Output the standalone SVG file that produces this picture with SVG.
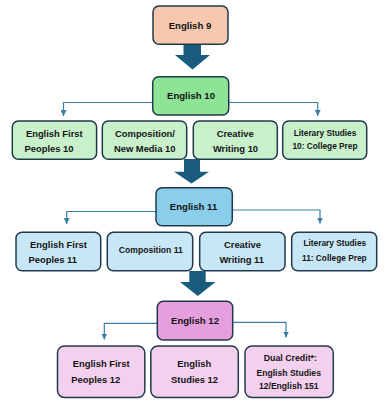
<svg xmlns="http://www.w3.org/2000/svg" width="389" height="414" viewBox="0 0 389 414">
  <defs>
    <style>
      .box { stroke: #203A4B; stroke-width: 1.5; }
      .t { font-family: "Liberation Sans", Arial, sans-serif; font-weight: bold; fill: #141414; text-anchor: middle; }
      .main { font-size: 9.6px; }
      .sub { font-size: 9.4px; }
      .small { font-size: 8.3px; }
      .conn { fill: none; stroke: #3A7DA6; stroke-width: 1.2; }
      .block { fill: #1A5C7E; }
      .c9 { fill: #F7C8AD; }
      .c10 { fill: #8DE396; }
      .c10s { fill: #C7F0CB; }
      .c11 { fill: #8ACEEC; }
      .c11s { fill: #C8E7F6; }
      .c12 { fill: #E69FDD; }
      .c12s { fill: #F3D0EE; }
    </style>
    <marker id="ah" viewBox="0 0 6 6" refX="6" refY="3" markerWidth="6" markerHeight="6" markerUnits="userSpaceOnUse" orient="auto">
      <path d="M0,0 L6,3 L0,6 Z" fill="#3A7DA6"/>
    </marker>
  </defs>
  <rect width="389" height="414" fill="#FFFFFF"/>

  <g id="connectors">
    <path class="block" d="M183.5,44 L201,44 L201,55 L210,55 L192.5,69.5 L175,55 L183.5,55 Z"/>
    <path class="block" d="M184,159 L200,159 L200,171.7 L209,171.7 L191.5,183.5 L174,171.7 L184,171.7 Z"/>
    <path class="block" d="M189.3,271 L205.7,271 L205.7,282 L215.5,282 L197.8,296 L180,282 L189.3,282 Z"/>
    <path class="conn" marker-end="url(#ah)" d="M153,102.5 L63.5,102.5 L63.5,116"/>
    <path class="conn" marker-end="url(#ah)" d="M228.7,102.5 L317.7,102.5 L317.7,116"/>
    <path class="conn" marker-end="url(#ah)" d="M156,211.5 L66.7,211.5 L66.7,224"/>
    <path class="conn" marker-end="url(#ah)" d="M232.3,210 L320,210 L320,223.5"/>
    <path class="conn" marker-end="url(#ah)" d="M157.3,323.3 L104.3,323.3 L104.3,339.5"/>
    <path class="conn" marker-end="url(#ah)" d="M232.7,322.3 L286,322.3 L286,337.5"/>
  </g>

  <g id="english9">
    <rect class="box c9" x="153" y="6" width="75" height="38.3" rx="6"/>
    <text class="t main" x="190" y="28.6">English 9</text>
  </g>

  <g id="english10">
    <rect class="box c10" x="152.7" y="76.7" width="76" height="38.3" rx="6"/>
    <text class="t main" x="191" y="99.3">English 10</text>
  </g>
  <g id="efp10">
    <rect class="box c10s" x="12.3" y="121" width="84.3" height="38.3" rx="6"/>
    <text class="t sub" x="54.3" y="136.7">English First</text>
    <text class="t sub" x="49" y="151.7">Peoples 10</text>
  </g>
  <g id="comp10">
    <rect class="box c10s" x="102.3" y="121" width="84.4" height="38.3" rx="6"/>
    <text class="t sub" x="145" y="136.7">Composition/</text>
    <text class="t sub" x="144.7" y="151.7">New Media 10</text>
  </g>
  <g id="cw10">
    <rect class="box c10s" x="193.3" y="121" width="84" height="38.3" rx="6"/>
    <text class="t sub" x="235.2" y="136.7">Creative</text>
    <text class="t sub" x="235.5" y="151.7">Writing 10</text>
  </g>
  <g id="lit10">
    <rect class="box c10s" x="282.7" y="121" width="84" height="38.3" rx="6"/>
    <text class="t small" x="325" y="135.7">Literary Studies</text>
    <text class="t small" x="325" y="148.5">10: College Prep</text>
  </g>

  <g id="english11">
    <rect class="box c11" x="156" y="187.7" width="76.3" height="38" rx="6"/>
    <text class="t main" x="193.5" y="210.2">English 11</text>
  </g>
  <g id="efp11">
    <rect class="box c11s" x="16" y="232.3" width="84.7" height="38.4" rx="6"/>
    <text class="t sub" x="58.5" y="248.3">English First</text>
    <text class="t sub" x="52.8" y="262.5">Peoples 11</text>
  </g>
  <g id="comp11">
    <rect class="box c11s" x="107.3" y="232.3" width="85.4" height="38.4" rx="6"/>
    <text class="t small" style="font-size:8.6px" x="150.8" y="253.3">Composition 11</text>
  </g>
  <g id="cw11">
    <rect class="box c11s" x="199.7" y="232.3" width="85.3" height="38.4" rx="6"/>
    <text class="t sub" x="242.5" y="248.3">Creative</text>
    <text class="t sub" x="241.7" y="262.6">Writing 11</text>
  </g>
  <g id="lit11">
    <rect class="box c11s" x="291.7" y="232.3" width="85" height="38.4" rx="6"/>
    <text class="t small" x="334.8" y="246">Literary Studies</text>
    <text class="t small" x="334.3" y="260.7">11: College Prep</text>
  </g>

  <g id="english12">
    <rect class="box c12" x="157.3" y="301.3" width="75.4" height="38.7" rx="6"/>
    <text class="t main" x="195" y="324.2">English 12</text>
  </g>
  <g id="efp12">
    <rect class="box c12s" x="57.5" y="346" width="87.3" height="51.5" rx="7"/>
    <text class="t sub" x="101.2" y="367.3">English First</text>
    <text class="t sub" x="95.8" y="382.6">Peoples 12</text>
  </g>
  <g id="es12">
    <rect class="box c12s" x="150.8" y="346" width="87.5" height="51.5" rx="7"/>
    <text class="t sub" x="194.3" y="367.2">English</text>
    <text class="t sub" x="194.5" y="383.2">Studies 12</text>
  </g>
  <g id="dual">
    <rect class="box c12s" x="245" y="346" width="88.3" height="51.5" rx="7"/>
    <text class="t small" style="font-size:8.8px" x="290.3" y="360.8">Dual Credit*:</text>
    <text class="t small" style="font-size:8.6px" x="288.7" y="376">English Studies</text>
    <text class="t small" style="font-size:8.6px" x="288.8" y="389.2">12/English 151</text>
  </g>
</svg>
